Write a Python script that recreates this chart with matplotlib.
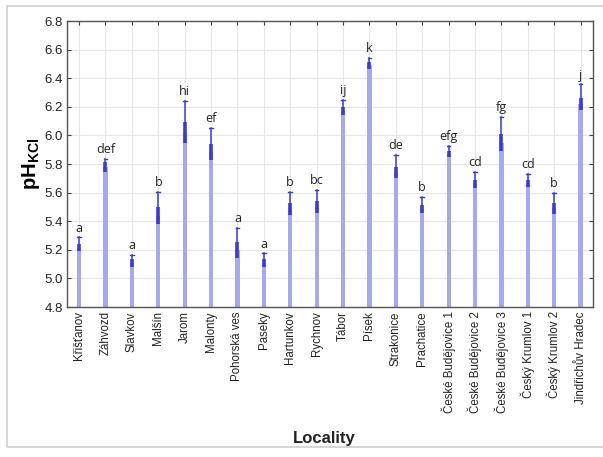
import matplotlib
matplotlib.use("Agg")
import matplotlib.pyplot as plt
from matplotlib.patches import Rectangle

plt.rcParams["font.family"] = ["Liberation Sans", "DejaVu Sans"]
plt.rcParams["mathtext.fontset"] = "custom"
plt.rcParams["mathtext.rm"] = "Liberation Sans"
plt.rcParams["mathtext.bf"] = "Liberation Sans:bold"

localities = [
    "Křišťanov", "Záhvozd", "Slavkov", "Malšín", "Jarom", "Malonty",
    "Pohorská ves", "Paseky", "Hartunkov", "Rychnov", "Tábor", "Písek",
    "Strakonice", "Prachatice", "České Budějovice 1", "České Budějovice 2",
    "České Budějovice 3", "Český Krumlov 1", "Český Krumlov 2",
    "Jindřichův Hradec",
]
means = [5.215, 5.78, 5.108, 5.44, 6.02, 5.885, 5.20, 5.107, 5.484, 5.50,
         6.17, 6.49, 5.74, 5.484, 5.87, 5.66, 5.95, 5.665, 5.49, 6.22]
se = [0.025, 0.032, 0.026, 0.058, 0.074, 0.055, 0.054, 0.027, 0.041, 0.042,
      0.027, 0.023, 0.040, 0.029, 0.021, 0.029, 0.058, 0.024, 0.038, 0.044]
ci_upper = [5.287, 5.835, 5.164, 5.606, 6.24, 6.05, 5.355, 5.175, 5.606, 5.618,
            6.248, 6.543, 5.861, 5.571, 5.928, 5.746, 6.131, 5.73, 5.60, 6.357]
groups = ["a", "def", "a", "b", "hi", "ef", "a", "a", "b", "bc", "ij", "k",
          "de", "b", "efg", "cd", "fg", "cd", "b", "j"]

bar_color = "#a8a8f0"
err_color = "#3a3ad8"

fig = plt.figure(figsize=(6.03, 4.57), dpi=100)
fig.patches.append(Rectangle((7 / 603, 1 - 447 / 457), 1.0, 441 / 457,
                             transform=fig.transFigure, fill=False,
                             edgecolor="#cfcfcf", linewidth=1.2))
ax = fig.add_axes([0.111, 0.328, 0.872, 0.626])

x = list(range(len(localities)))
bottom = 4.8
ax.bar(x, [m - bottom for m in means], bottom=bottom, width=0.16,
       color=bar_color, edgecolor="none", zorder=2)

# upper whisker (confidence limit) with cap
for xi, m, hi in zip(x, means, ci_upper):
    ax.plot([xi, xi], [m, hi], color=err_color, lw=1.1, zorder=3)
    ax.plot([xi - 0.07, xi + 0.07], [hi, hi], color=err_color, lw=1.0, zorder=3)

# mean +- standard error
for xi, m, s in zip(x, means, se):
    ax.plot([xi, xi], [m - s, m + s], color=err_color, lw=2.6, zorder=4,
            solid_capstyle="butt")

for xi, hi, g in zip(x, ci_upper, groups):
    ax.text(xi, hi + 0.02, g, ha="center", va="bottom", fontsize=9,
            color="#222222", family=["Open Sans", "DejaVu Sans"])

ax.set_xlim(-0.46, 19.46)
ax.set_ylim(4.8, 6.8)
ax.set_yticks([4.8 + 0.2 * i for i in range(11)])
ax.set_yticklabels([f"{4.8 + 0.2 * i:.1f}" for i in range(11)], fontsize=9.5)
ax.set_xticks(x)
ax.set_xticklabels(localities, rotation=90, fontsize=8.3)

ax.grid(True, color="#e6e6e6", lw=0.8, zorder=0)
ax.set_axisbelow(True)
ax.tick_params(direction="in", length=3, color="#404040", top=True,
               right=True, labelcolor="#222222", pad=3)
for sp in ax.spines.values():
    sp.set_color("#555555")
    sp.set_linewidth(1.0)

ax.set_ylabel(r"$\mathbf{pH_{KCl}}$", fontsize=14.5, labelpad=2)
fig.text(0.538, 1 - 438 / 457, "Locality", ha="center", va="center",
         fontsize=12, fontweight="bold", color="#222222")

fig.savefig("out.png", dpi=100)
